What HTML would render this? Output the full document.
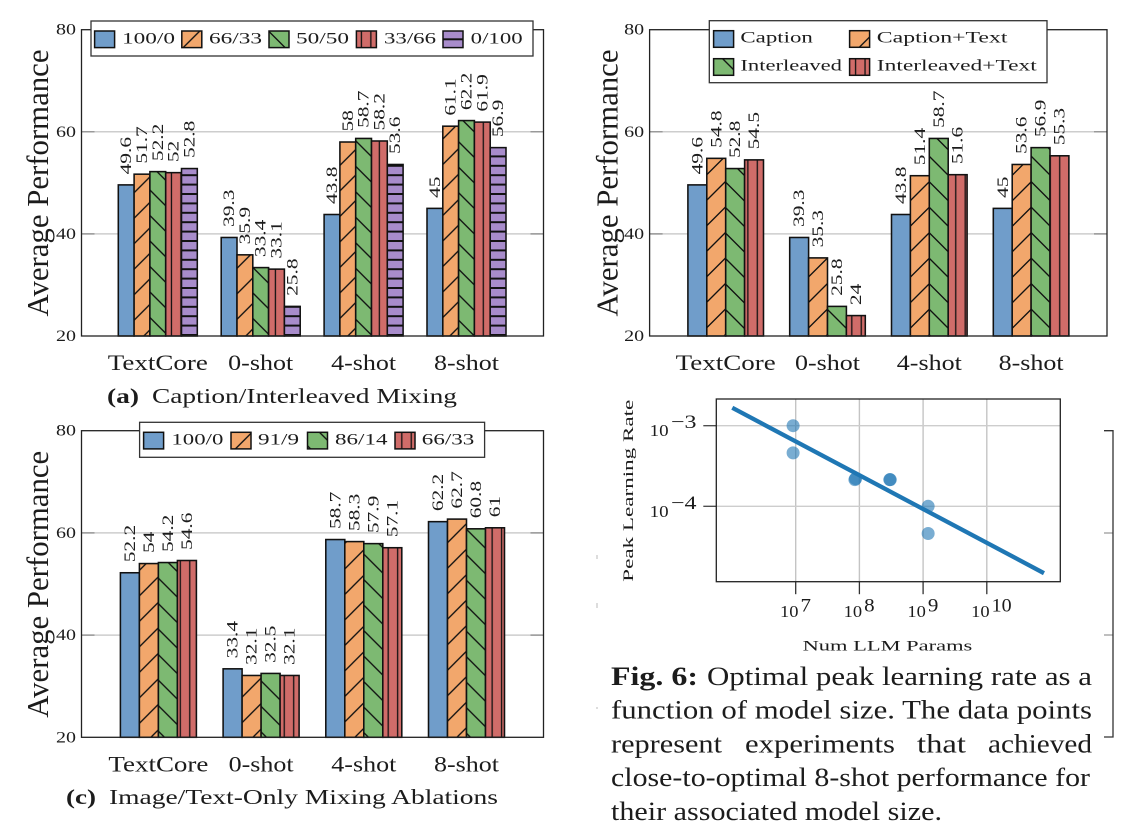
<!DOCTYPE html>
<html lang="en">
<head>
<meta charset="utf-8">
<title>Average Performance charts and learning rate figure</title>
<style>
html,body{margin:0;padding:0;background:#fff}
svg{display:block}
text{font-family:"Liberation Serif",serif;fill:#1c1c1c}
</style>
</head>
<body>
<svg id="page" xmlns="http://www.w3.org/2000/svg" width="1126" height="826" viewBox="0 0 1126 826">
<defs id="defs"></defs>
<g id="panel-a"></g>
<g id="panel-b"></g>
<g id="panel-c"></g>
<g id="panel-d"></g>

<g>
<text x="107" y="403" font-size="21.5" font-weight="bold" textLength="32" lengthAdjust="spacingAndGlyphs">(a)</text>
<text x="152" y="403" font-size="21.5" textLength="305" lengthAdjust="spacingAndGlyphs">Caption/Interleaved Mixing</text>
</g>
<g>
<text x="66" y="804" font-size="21.5" font-weight="bold" textLength="30" lengthAdjust="spacingAndGlyphs">(c)</text>
<text x="109" y="804" font-size="21.5" textLength="389" lengthAdjust="spacingAndGlyphs">Image/Text-Only Mixing Ablations</text>
</g>

<g>
<text x="611" y="685" font-size="26.5" font-weight="bold" textLength="87" lengthAdjust="spacingAndGlyphs">Fig. 6:</text>
<text x="707" y="685" font-size="26.5" textLength="385" lengthAdjust="spacingAndGlyphs">Optimal peak learning rate as a</text>
<text x="611" y="718.7" font-size="26.5" textLength="481" lengthAdjust="spacingAndGlyphs">function of model size. The data points</text>
<text x="611" y="752.4" font-size="26.5" textLength="111" lengthAdjust="spacingAndGlyphs">represent</text>
<text x="745" y="752.4" font-size="26.5" textLength="150" lengthAdjust="spacingAndGlyphs">experiments</text>
<text x="917" y="752.4" font-size="26.5" textLength="49" lengthAdjust="spacingAndGlyphs">that</text>
<text x="988" y="752.4" font-size="26.5" textLength="104" lengthAdjust="spacingAndGlyphs">achieved</text>
<text x="611" y="786" font-size="26.5" textLength="479" lengthAdjust="spacingAndGlyphs">close-to-optimal 8-shot performance for</text>
<text x="611" y="820" font-size="26.5" textLength="331" lengthAdjust="spacingAndGlyphs">their associated model size.</text>
</g>

<g>
<path d="M1104 533H1113M1104 635H1113" stroke="#aaa" stroke-width="1.4" fill="none"/>
<path d="M1104 430.7H1113V737H1104" stroke="#333" stroke-width="1.3" fill="none"/>
<path d="M597 555V559M597 603V608M597 707V709" stroke="#bbb" stroke-width="1" fill="none"/>
</g>
</svg>

<script>
// Shared chart data
const categories = ['TextCore', '0-shot', '4-shot', '8-shot'];
const yTickValues = [20, 40, 60, 80];

// Panel (a)
const seriesNamesA = ['100/0', '66/33', '50/50', '33/66', '0/100'];
const a100to0 = [49.6, 39.3, 43.8, 45];
const a66to33 = [51.7, 35.9, 58, 61.1];
const a50to50 = [52.2, 33.4, 58.7, 62.2];
const a33to66 = [52, 33.1, 58.2, 61.9];
const a0to100 = [52.8, 25.8, 53.6, 56.9];

// Panel (b)
const seriesNamesB = ['Caption', 'Caption+Text', 'Interleaved', 'Interleaved+Text'];
const bCaption = [49.6, 39.3, 43.8, 45];
const bCaptionText = [54.8, 35.3, 51.4, 53.6];
const bInterleaved = [52.8, 25.8, 58.7, 56.9];
const bInterleavedText = [54.5, 24, 51.6, 55.3];

// Panel (c)
const seriesNamesC = ['100/0', '91/9', '86/14', '66/33'];
const c100to0 = [52.2, 33.4, 58.7, 62.2];
const c91to9 = [54, 32.1, 58.3, 62.7];
const c86to14 = [54.2, 32.5, 57.9, 60.8];
const c66to33 = [54.6, 32.1, 57.1, 61];

// Scatter panel
const scatterParams = [9.1e6, 9.1e6, 8.5e7, 8.7e7, 3e8, 3.05e8, 1.2e9, 1.2e9];
const scatterRates = [1e-3, 4.6e-4, 2.14e-4, 2.2e-4, 2.14e-4, 2.14e-4, 1e-4, 4.6e-5];
const fitParams = [1.01e6, 7.9e10];
const fitRates = [1.67e-3, 1.48e-5];
const xExponents = [7, 8, 9, 10];
const yExponents = [-3, -4];

const NS = 'http://www.w3.org/2000/svg';
const defs = document.getElementById('defs');
const colors = ['#709dca', '#f2a76c', '#7db972', '#d06c69', '#a88ccb'];
const hatches = ['none', 'ne', 'se', 'v', 'h'];
const DIAG = 25.5;
const VSTEP = 9.45;
const HSTEP = 9.4;

function mk(parent, tag, attrs, content) {
  const el = document.createElementNS(NS, tag);
  for (const k in attrs) el.setAttribute(k, attrs[k]);
  if (content !== undefined) el.textContent = content;
  parent.appendChild(el);
  return el;
}

function makePattern(id, color, type, tx, ty) {
  if (type === 'none') return color;
  const w = type === 'v' ? VSTEP : (type === 'h' ? 4 : DIAG);
  const h = type === 'v' ? 4 : (type === 'h' ? HSTEP : DIAG);
  const p = mk(defs, 'pattern', {id: id, patternUnits: 'userSpaceOnUse', width: w, height: h, patternTransform: 'translate(' + tx + ' ' + ty + ')'});
  mk(p, 'rect', {x: 0, y: 0, width: w, height: h, fill: color});
  let d = '';
  if (type === 'ne') d = 'M-2 2L2 -2M-2 ' + (DIAG + 2) + 'L' + (DIAG + 2) + ' -2M' + (DIAG - 2) + ' ' + (DIAG + 2) + 'L' + (DIAG + 2) + ' ' + (DIAG - 2);
  if (type === 'se') d = 'M-2 -2L' + (DIAG + 2) + ' ' + (DIAG + 2) + 'M' + (DIAG - 2) + ' -2L' + (DIAG + 2) + ' 2M-2 ' + (DIAG - 2) + 'L2 ' + (DIAG + 2);
  if (type === 'v') d = 'M0 0V4M' + VSTEP + ' 0V4';
  if (type === 'h') d = 'M0 0H4M0 ' + HSTEP + 'H4';
  const sw = type === 'h' ? 2 : (type === 'v' ? 1.3 : 1.35);
  mk(p, 'path', {d: d, stroke: '#111', 'stroke-width': sw, fill: 'none'});
  return 'url(#' + id + ')';
}

function panelFills(prefix, ne, se, v, h) {
  return [
    colors[0],
    makePattern(prefix + '-ne', colors[1], 'ne', ne, 0),
    makePattern(prefix + '-se', colors[2], 'se', 0, se),
    makePattern(prefix + '-v', colors[3], 'v', v, 0),
    makePattern(prefix + '-h', colors[4], 'h', 0, h)
  ];
}

function swatchFill(id, idx, x0, y0, d) {
  const type = hatches[idx];
  if (type === 'ne') return makePattern(id, colors[idx], type, x0 + y0 + d, 0);
  if (type === 'se') return makePattern(id, colors[idx], type, 0, y0 + d - x0);
  if (type === 'v') return makePattern(id, colors[idx], type, x0 + d, 0);
  if (type === 'h') return makePattern(id, colors[idx], type, 0, y0 + d);
  return colors[idx];
}

function drawBarPanel(cfg) {
  const g = document.getElementById(cfg.id);
  const yScale = function (v) {
    return cfg.bottom - (v - yTickValues[0]) / (yTickValues[yTickValues.length - 1] - yTickValues[0]) * (cfg.bottom - cfg.top);
  };
  const xBar = function (cat, s) {
    return cfg.start + cat * cfg.step + s * cfg.barW;
  };

  yTickValues.forEach(function (t) {
    const y = yScale(t);
    if (t !== 20 && t !== 80) {
      const grid = mk(g, 'line', {x1: cfg.left, x2: cfg.right, y1: y, y2: y, stroke: '#cdcdcd', 'stroke-width': 1.5});
      
      
      const tick = mk(g, 'path', {d: 'M' + cfg.left + ' ' + y + 'h13M' + cfg.right + ' ' + y + 'h-13', stroke: '#999', 'stroke-width': 1.5, fill: 'none'});
      
      
    }
    const label = mk(g, 'text', {x: cfg.left - 25.5, y: y + 5, 'font-size': 15.5, textLength: 20, lengthAdjust: 'spacingAndGlyphs'}, String(t));
    
    
  });

  cfg.series.forEach(function (values, s) {
    values.forEach(function (v, c) {
      const x = xBar(c, s);
      const y = yScale(v);
      const bar = mk(g, 'rect', {x: x, y: y, width: cfg.barW, height: cfg.bottom - y, fill: cfg.fills[s], stroke: '#111', 'stroke-width': 1.55});
      
      
      const lx = x + cfg.barW / 2 + 5;
      const ly = y - 10.5;
      const val = mk(g, 'text', {'font-size': 15.5, transform: 'translate(' + lx + ' ' + ly + ') rotate(-90) scale(1.38 1)'}, String(v));
      
      
    });
  });

  const frame = mk(g, 'rect', {x: cfg.left, y: cfg.top, width: cfg.right - cfg.left, height: cfg.bottom - cfg.top, fill: 'none', stroke: '#222', 'stroke-width': 1.3});
  
  

  categories.forEach(function (name, c) {
    const cx = cfg.start + c * cfg.step + cfg.barW * cfg.series.length / 2;
    const lab = mk(g, 'text', {x: cx, y: cfg.bottom + 34, 'font-size': 22, 'text-anchor': 'middle', textLength: name === 'TextCore' ? 100 : 65, lengthAdjust: 'spacingAndGlyphs'}, name);
    
    
  });

  const yTitle = mk(g, 'text', {'font-size': 31, textLength: 267, lengthAdjust: 'spacingAndGlyphs', transform: 'translate(' + cfg.titleX + ' ' + (cfg.bottom - 19.5) + ') rotate(-90)'}, 'Average Performance');
  
  

  const L = cfg.legend;
  const box = mk(g, 'rect', {x: L.x, y: L.y, width: L.w, height: L.h, fill: '#fff', stroke: '#333', 'stroke-width': 1.3});
  
  
  L.items.forEach(function (it, i) {
    const fill = swatchFill(cfg.id + '-sw-' + i, it.idx, it.sx, it.sy, it.d);
    const sw = mk(g, 'rect', {x: it.sx, y: it.sy, width: 20, height: 16.6, fill: fill, stroke: '#111', 'stroke-width': 1.5});
    
    
    const tx = mk(g, 'text', {x: it.tx, y: it.ty, 'font-size': 15.5, textLength: it.tw, lengthAdjust: 'spacingAndGlyphs'}, L.names[i]);
    
    
  });
}

drawBarPanel({
  id: 'panel-a', left: 81.5, right: 543.5, top: 29.7, bottom: 336, start: 118.3, step: 102.9, barW: 15.8, titleX: 48,
  fills: panelFills('bar-a', 20.8, 14.6, 1.35, 6),
  series: [a100to0, a66to33, a50to50, a33to66, a0to100],
  legend: {x: 91, y: 21, w: 442, h: 35, names: seriesNamesA, items: [
    {idx: 0, sx: 94.6, sy: 31, d: 0, tx: 122, ty: 43.7, tw: 53},
    {idx: 1, sx: 181.8, sy: 31, d: 18, tx: 209, ty: 43.7, tw: 53},
    {idx: 2, sx: 269, sy: 31, d: 0.5, tx: 296, ty: 43.7, tw: 53},
    {idx: 3, sx: 356.4, sy: 31, d: 5, tx: 384, ty: 43.7, tw: 52},
    {idx: 4, sx: 443, sy: 31, d: 8.3, tx: 470.7, ty: 43.7, tw: 52}
  ]}
});

drawBarPanel({
  id: 'panel-b', left: 649.6, right: 1107, top: 29.7, bottom: 336, start: 687.9, step: 101.8, barW: 18.9, titleX: 617.5,
  fills: panelFills('bar-b', 14.5, 17.5, 1.3, 6),
  series: [bCaption, bCaptionText, bInterleaved, bInterleavedText],
  legend: {x: 709.3, y: 20.7, w: 337.7, h: 62, names: seriesNamesB, items: [
    {idx: 0, sx: 713.6, sy: 30.7, d: 0, tx: 740.4, ty: 42.3, tw: 72.5},
    {idx: 1, sx: 849.6, sy: 30.7, d: 26.3, tx: 876.8, ty: 42.3, tw: 130.7},
    {idx: 2, sx: 713.6, sy: 58.7, d: -9, tx: 740.4, ty: 70.3, tw: 101.6},
    {idx: 3, sx: 849.6, sy: 58.7, d: 6, tx: 876.8, ty: 70.3, tw: 160}
  ]}
});

drawBarPanel({
  id: 'panel-c', left: 81.5, right: 543.5, top: 430.7, bottom: 737.3, start: 120.4, step: 102.7, barW: 19, titleX: 48,
  fills: panelFills('bar-c', 21.2, 11.8, 0.75, 6),
  series: [c100to0, c91to9, c86to14, c66to33],
  legend: {x: 139.6, y: 422.3, w: 345, h: 35, names: seriesNamesC, items: [
    {idx: 0, sx: 143.6, sy: 432.3, d: 0, tx: 171.4, ty: 444.3, tw: 52},
    {idx: 1, sx: 231, sy: 432.3, d: 21, tx: 258, ty: 444.3, tw: 41},
    {idx: 2, sx: 307.5, sy: 432.3, d: -12, tx: 335, ty: 444.3, tw: 52.5},
    {idx: 3, sx: 395, sy: 432.3, d: 6.8, tx: 421.8, ty: 444.3, tw: 52.5}
  ]}
});

function drawScatter() {
  const g = document.getElementById('panel-d');
  const left = 716.3, right = 1060.3, top = 399, bottom = 581.7;
  const xLog = function (v) { return 795.7 + (Math.log10(v) - 7) * 63.7; };
  const yLog = function (v) { return 425.7 - (Math.log10(v) + 3) * 80.6; };

  xExponents.forEach(function (e) {
    const x = xLog(Math.pow(10, e));
    const grid = mk(g, 'line', {x1: x, x2: x, y1: top, y2: bottom, stroke: '#c4c4c4', 'stroke-width': 1.4});
    
    
    const tick = mk(g, 'line', {x1: x, x2: x, y1: bottom, y2: bottom + 12.5, stroke: '#333', 'stroke-width': 1.3});
    
    
    const base = mk(g, 'text', {x: x - 15.7, y: 617, 'font-size': 16.5, textLength: 18.5, lengthAdjust: 'spacingAndGlyphs'}, '10');
    
    
    const sup = mk(g, 'text', {x: x + 4.8, y: 611.5, 'font-size': 19, textLength: String(e).length > 1 ? 20 : 10.5, lengthAdjust: 'spacingAndGlyphs'}, String(e));
    
    
  });

  yExponents.forEach(function (e) {
    const y = yLog(Math.pow(10, e));
    const grid = mk(g, 'line', {x1: left, x2: right, y1: y, y2: y, stroke: '#cdcdcd', 'stroke-width': 1.4});
    
    
    const tick = mk(g, 'line', {x1: left - 13, x2: left, y1: y, y2: y, stroke: '#444', 'stroke-width': 1.3});
    
    
    const base = mk(g, 'text', {x: 649.6, y: y + 10.5, 'font-size': 16.5, textLength: 19, lengthAdjust: 'spacingAndGlyphs'}, '10');
    
    
    const sup = mk(g, 'text', {x: 671, y: y + 2.5, 'font-size': 19, textLength: 25.5, lengthAdjust: 'spacingAndGlyphs'}, '\u2212' + Math.abs(e));
    
    
  });

  scatterParams.forEach(function (p, i) {
    const pt = mk(g, 'circle', {cx: xLog(p), cy: yLog(scatterRates[i]), r: 6.5, fill: '#1f77b4', 'fill-opacity': 0.6});
    
    
  });

  const fit = mk(g, 'line', {x1: xLog(fitParams[0]), y1: yLog(fitRates[0]), x2: xLog(fitParams[1]), y2: yLog(fitRates[1]), stroke: '#1f77b4', 'stroke-width': 4.3});
  
  

  const frame = mk(g, 'rect', {x: left, y: top, width: right - left, height: bottom - top, fill: 'none', stroke: '#222', 'stroke-width': 1.3});
  
  

  const xt = mk(g, 'text', {x: 802.6, y: 650.7, 'font-size': 15, textLength: 169.7, lengthAdjust: 'spacingAndGlyphs'}, 'Num LLM Params');
  
  
  const yt = mk(g, 'text', {'font-size': 15, textLength: 182, lengthAdjust: 'spacingAndGlyphs', transform: 'translate(632.9 581.7) rotate(-90)'}, 'Peak Learning Rate');
  
  
}
drawScatter();
</script>
</body>
</html>
